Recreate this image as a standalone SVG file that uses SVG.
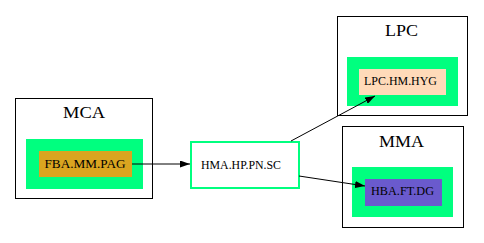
<svg xmlns="http://www.w3.org/2000/svg" width="484" height="243" viewBox="0 0 484 243">
  <style>
    .cluster { fill: #ffffff; stroke: #000000; stroke-width: 1; }
    .inner { fill: #00ff7f; stroke: none; }
    .title { font-family: "Liberation Serif", "Times New Roman", serif; font-size: 16px; text-anchor: middle; fill: #000; }
    .label { font-family: "Liberation Serif", "Times New Roman", serif; font-size: 12.5px; text-anchor: middle; fill: #000; }
    .edge { stroke: #000; stroke-width: 1; fill: none; }
  </style>
  <defs>
    <marker id="arrow" viewBox="0 0 10 7" refX="10" refY="3.5" markerWidth="10" markerHeight="7" markerUnits="userSpaceOnUse" orient="auto">
      <path d="M0,0 L10,3.5 L0,7 Z" fill="#000"/>
    </marker>
  </defs>
  <rect width="484" height="243" fill="#ffffff"/>

  <g id="cluster-MCA">
    <rect class="cluster" x="15.5" y="98.5" width="137" height="100"/>
    <text class="title" x="84" y="118" textLength="42" lengthAdjust="spacingAndGlyphs">MCA</text>
    <rect class="inner" x="26" y="139" width="117" height="50"/>
  </g>
  <g id="FBA.MM.PAG">
    <rect x="39" y="151" width="93" height="26" fill="#daa520"/>
    <text class="label" x="85" y="167.5" textLength="81" lengthAdjust="spacingAndGlyphs">FBA.MM.PAG</text>
  </g>

  <g id="cluster-LPC">
    <rect class="cluster" x="337.5" y="16.5" width="130" height="99"/>
    <text class="title" x="401.5" y="36" textLength="33" lengthAdjust="spacingAndGlyphs">LPC</text>
    <rect class="inner" x="347" y="57" width="111" height="49"/>
  </g>
  <g id="LPC.HM.HYG">
    <rect x="359" y="69" width="87" height="26" fill="#ffdab9"/>
    <text class="label" x="400.5" y="84.5" textLength="73" lengthAdjust="spacingAndGlyphs">LPC.HM.HYG</text>
  </g>

  <g id="cluster-MMA">
    <rect class="cluster" x="342.5" y="126.5" width="121" height="101"/>
    <text class="title" x="401.5" y="147" textLength="45" lengthAdjust="spacingAndGlyphs">MMA</text>
    <rect class="inner" x="352" y="167" width="101" height="50"/>
  </g>
  <g id="HBA.FT.DG">
    <rect x="365" y="179" width="77" height="27" fill="#6a5acd"/>
    <text class="label" x="402.5" y="195" textLength="63" lengthAdjust="spacingAndGlyphs">HBA.FT.DG</text>
  </g>

  <g id="HMA.HP.PN.SC">
    <rect x="191" y="142" width="108" height="46" fill="#ffffff" stroke="#00ff7f" stroke-width="2"/>
    <text class="label" x="241" y="168.5" textLength="80" lengthAdjust="spacingAndGlyphs">HMA.HP.PN.SC</text>
  </g>

  <g id="connectors">
    <line class="edge" x1="132" y1="164" x2="190" y2="164" marker-end="url(#arrow)"/>
    <line class="edge" x1="291" y1="141" x2="375" y2="96" marker-end="url(#arrow)"/>
    <line class="edge" x1="299" y1="176" x2="365" y2="186" marker-end="url(#arrow)"/>
  </g>
</svg>
